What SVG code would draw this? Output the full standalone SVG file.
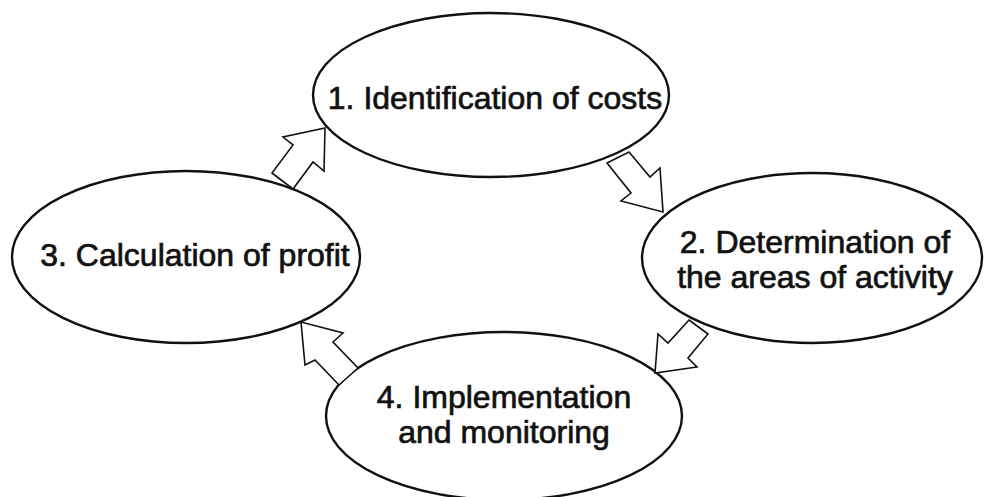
<svg xmlns="http://www.w3.org/2000/svg" width="984" height="497" viewBox="0 0 984 497">
  <style>
    .node ellipse { fill: #ffffff; stroke: #111111; stroke-width: 2.4; }
    .node text { font-family: "Liberation Sans", Arial, sans-serif; font-size: 32px; fill: #111111; stroke: #111111; stroke-width: 0.7; text-anchor: middle; }
    .arrow { fill: #ffffff; stroke: #111111; stroke-width: 1.6; stroke-linejoin: miter; }
  </style>
  <rect width="984" height="497" fill="#ffffff"/>

  <g id="node-1" class="node">
    <ellipse cx="491" cy="95" rx="178" ry="82"/>
    <text x="495" y="109">1. Identification of costs</text>
  </g>

  <g id="node-2" class="node">
    <ellipse cx="812" cy="258" rx="170" ry="85"/>
    <text x="815" y="253">2. Determination of</text>
    <text x="815" y="288">the areas of activity</text>
  </g>

  <g id="node-3" class="node">
    <ellipse cx="186" cy="257" rx="174" ry="86"/>
    <text x="195" y="266">3. Calculation of profit</text>
  </g>

  <g id="node-4" class="node">
    <ellipse cx="504" cy="416" rx="178" ry="84"/>
    <text x="504" y="408">4. Implementation</text>
    <text x="504" y="443">and monitoring</text>
  </g>

  <g id="connectors">
    <!-- 1 -> 2 -->
    <polygon class="arrow" points="607,163 629,152 650,177 660,168 663,212 621,201 631,193"/>
    <!-- 2 -> 4 -->
    <polygon class="arrow" points="689,320 708,334 688,358 697,367 655,373 658,334 668,343"/>
    <!-- 4 -> 3 -->
    <polygon class="arrow" points="358,368 339,385 315,360 305,365 301,322 343,333 333,342"/>
    <!-- 3 -> 1 -->
    <polygon class="arrow" points="272,173 293,189 313,162 324,171 325,128 283,137 293,145"/>
  </g>
</svg>
